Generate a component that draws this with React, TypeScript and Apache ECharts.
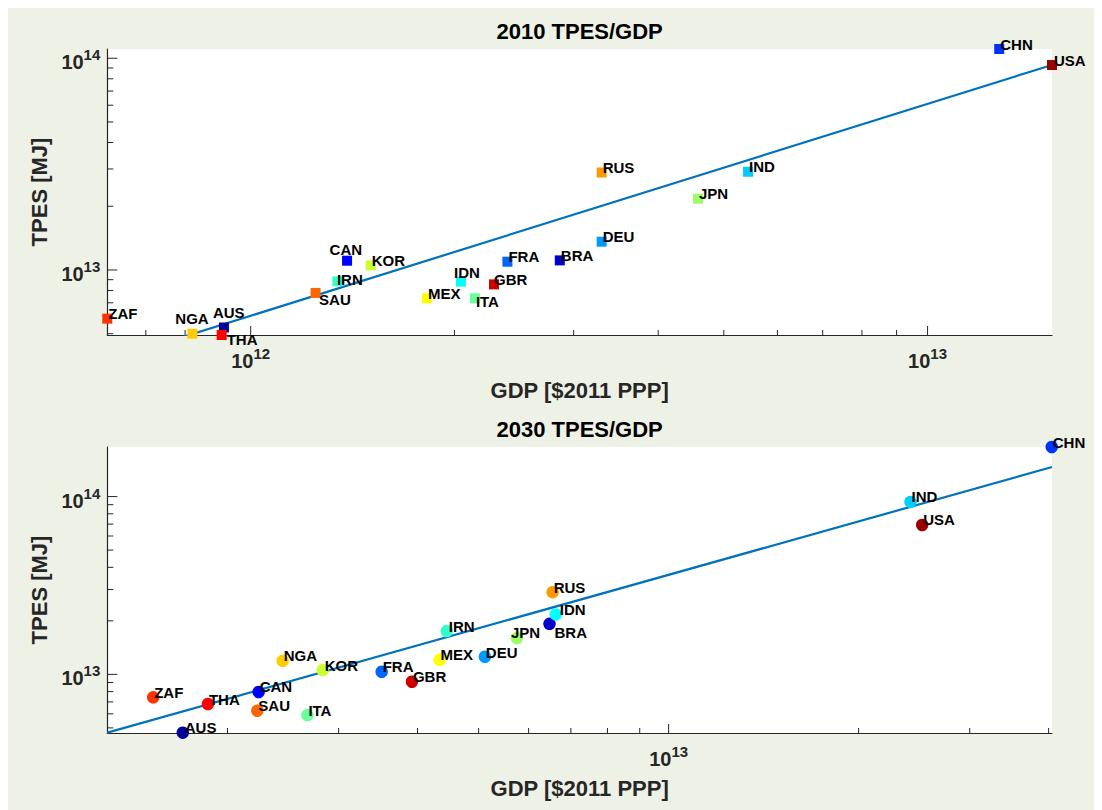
import { useEffect, useRef } from "react";
import * as echarts from "echarts";

const FONT = "'Liberation Sans', Arial, Helvetica, sans-serif";
const AXIS_COLOR = "#262626";
const BG = "#eef1e5";

// Countries (alphabetical by country name -> jet(20) colour order)
const countries = ["AUS", "BRA", "CAN", "CHN", "FRA", "DEU", "IND", "IDN", "IRN", "ITA", "JPN", "KOR", "MEX", "NGA", "RUS", "SAU", "ZAF", "THA", "GBR", "USA"];
const colors = [
  "#000099", "#0000cc", "#0000ff", "#0033ff", "#0066ff", "#0099ff", "#00ccff", "#00ffff", "#33ffcc", "#66ff99",
  "#99ff66", "#ccff33", "#ffff00", "#ffcc00", "#ff9900", "#ff6600", "#ff3300", "#ff0000", "#cc0000", "#990000",
];

// 2010 values
const gdp2010 = [9.13e11, 2.862e12, 1.388e12, 1.276e13, 2.395e12, 3.3e12, 5.43e12, 2.045e12, 1.343e12, 2.144e12, 4.58e12, 1.504e12, 1.821e12, 8.2e11, 3.3e12, 1.247e12, 6.14e11, 9.06e11, 2.288e12, 1.527e13];
const tpes2010 = [5.35e12, 1.11e13, 1.106e13, 1.106e14, 1.094e13, 1.36e13, 2.91e13, 8.81e12, 8.84e12, 7.35e12, 2.17e13, 1.051e13, 7.35e12, 5.0e12, 2.886e13, 7.79e12, 5.89e12, 4.93e12, 8.55e12, 9.29e13];
const fit2010X = [6.14e11, 1.527e13];
const fit2010Y = [3.73e12, 9.3e13];

// 2030 values
const gdp2030 = [1.699e12, 6.475e12, 2.241e12, 4.046e13, 3.51e12, 5.115e12, 2.417e13, 6.625e12, 4.451e12, 2.677e12, 5.75e12, 2.83e12, 4.336e12, 2.446e12, 6.55e12, 2.23e12, 1.525e12, 1.862e12, 3.92e12, 2.522e13];
const tpes2030 = [4.7e12, 1.924e13, 7.96e12, 1.9e14, 1.034e13, 1.256e13, 9.33e13, 2.173e13, 1.751e13, 5.905e12, 1.599e13, 1.057e13, 1.208e13, 1.192e13, 2.9e13, 6.245e12, 7.43e12, 6.81e12, 9.09e12, 6.92e13];
const fit2030X = [1.29e12, 4.05e13];
const fit2030Y = [4.7e12, 1.466e14];

// Axis limits
const xLim2010 = [6.14e11, 1.527e13];
const yLim2010 = [4.93e12, 1.106e14];
const xLim2030 = [1.29e12, 4.05e13];
const yLim2030 = [4.68e12, 1.9e14];

// Tick values
const xMajor2010 = [1e12, 1e13];
const xMinor2010 = [7e11, 8e11, 9e11, 2e12, 3e12, 4e12, 5e12, 6e12, 7e12, 8e12, 9e12];
const xMajor2030 = [1e13];
const xMinor2030 = [2e12, 3e12, 4e12, 5e12, 6e12, 7e12, 8e12, 9e12, 2e13, 3e13, 4e13];
const yMajor = [1e13, 1e14];
const yMinor = [5e12, 6e12, 7e12, 8e12, 9e12, 2e13, 3e13, 4e13, 5e13, 6e13, 7e13, 8e13, 9e13];

// Label offsets (text left / text centre relative to marker centre)
const labDx2010 = [-11, 1, -17.5, 1, 1, 1, 1, -7, -0.5, 1, 1, 1, 1, -17, 1, 3.5, 1, 5, 0, 2];
const labDy2010 = [-15, -5, -11, -5, -5, -5, -5, -9.5, -2, 3, -5, -5, -5, -15, -5, 6.5, -5.5, 4, -5, -5];
const labDx2030 = [2, 5, 1, 1, 1, 1, 1, 4, 2, 1, -6, 2, 1, 1, 1, 1, 1, 1, 1, 1];
const labDy2030 = [-5, 9, -5, -5, -5, -4, -5, -5, -5, -5, -5.5, -5, -5, -5, -4.5, -5, -5, -5, -5, -5];

// Layout (page coords minus 8px body margin)
const GRID_LEFT = 99.3;
const GRID_W = 944.7;
const GRID_H = 286;
const TOP1 = 41;
const TOP2 = 439;

const powLabel = (v: number) => {
  const e = Math.log10(v);
  const r = Math.round(e);
  return Math.abs(e - r) < 1e-6 ? `{b|10}{s|${r}}` : "";
};

const rich = {
  b: { fontSize: 20, fontWeight: "bold", fontFamily: FONT, color: AXIS_COLOR, lineHeight: 25, verticalAlign: "bottom" },
  s: { fontSize: 15, fontWeight: "bold", fontFamily: FONT, color: AXIS_COLOR, lineHeight: 17, verticalAlign: "top" },
};

const nameStyle = { fontSize: 22, fontWeight: "bold", color: AXIS_COLOR, fontFamily: FONT };

function makeXAxis(gridIndex: number, lim: number[]) {
  return {
    type: "log", logBase: 10, gridIndex, min: lim[0], max: lim[1],
    axisLine: { show: true, onZero: false, lineStyle: { color: AXIS_COLOR, width: 1.2 } },
    axisTick: { show: false }, splitLine: { show: false }, minorTick: { show: false }, minorSplitLine: { show: false },
    axisLabel: { formatter: powLabel, margin: 11, rich, fontSize: 20, fontWeight: "bold", fontFamily: FONT, color: AXIS_COLOR, showMinLabel: false, showMaxLabel: false },
    name: "GDP [$2011 PPP]", nameLocation: "middle", nameGap: 44, nameTextStyle: nameStyle,
  };
}

function makeYAxis(gridIndex: number, lim: number[]) {
  return {
    type: "log", logBase: 10, gridIndex, min: lim[0], max: lim[1],
    axisLine: { show: true, onZero: false, lineStyle: { color: AXIS_COLOR, width: 1.2 } },
    axisTick: { show: false }, splitLine: { show: false }, minorTick: { show: false }, minorSplitLine: { show: false },
    axisLabel: { formatter: powLabel, margin: 7, rich, fontSize: 20, fontWeight: "bold", fontFamily: FONT, color: AXIS_COLOR, padding: [3, 0, 0, 0], showMinLabel: false, showMaxLabel: false },
    name: "TPES [MJ]", nameLocation: "middle", nameGap: 53, nameRotate: 90, nameTextStyle: nameStyle,
  };
}

function tickSeries(idx: number, xMaj: number[], xMin: number[], yMaj: number[], yMin: number[], xLim: number[], yLim: number[]) {
  const data = [
    ...xMaj.map((v) => [v, yLim[0], 0]),
    ...xMin.map((v) => [v, yLim[0], 1]),
    ...yMaj.map((v) => [xLim[0], v, 2]),
    ...yMin.map((v) => [xLim[0], v, 3]),
  ];
  return {
    type: "custom", xAxisIndex: idx, yAxisIndex: idx, z: 1, silent: true, clip: false,
    data, encode: { x: 0, y: 1 },
    renderItem: (_p: any, api: any) => {
      const pt = api.coord([api.value(0), api.value(1)]);
      const k = api.value(2);
      const shape = k < 2
        ? { x1: pt[0], y1: pt[1], x2: pt[0], y2: pt[1] - (k === 0 ? 9 : 5) }
        : { x1: pt[0], y1: pt[1], x2: pt[0] + (k === 2 ? 10 : 6), y2: pt[1] };
      return { type: "line", shape, style: { stroke: AXIS_COLOR, lineWidth: 1 } };
    },
  };
}

function scatterSeries(idx: number, xs: number[], ys: number[], dx: number[], dy: number[], symbol: string, size: number) {
  return {
    type: "scatter", xAxisIndex: idx, yAxisIndex: idx, z: 3, clip: false, symbol, symbolSize: size,
    data: countries.map((c, i) => ({
      name: c, value: [xs[i], ys[i]],
      itemStyle: { color: colors[i], opacity: 1 },
      label: { position: [size / 2 + dx[i], size / 2 + dy[i]] },
    })),
    label: {
      show: true, formatter: (p: any) => p.name, align: "left", verticalAlign: "middle",
      fontSize: 15, fontWeight: "bold", color: "#000", fontFamily: FONT,
    },
    emphasis: { disabled: true },
  };
}

function lineSeries(idx: number, xs: number[], ys: number[]) {
  return {
    type: "line", xAxisIndex: idx, yAxisIndex: idx, z: 2, clip: true, showSymbol: false, symbol: "none",
    data: xs.map((x, i) => [x, ys[i]]),
    lineStyle: { color: "#0072bd", width: 2.2 },
  };
}

export default function App() {
  const ref = useRef<HTMLDivElement>(null);
  useEffect(() => {
    if (!ref.current) return;
    const chart = echarts.init(ref.current, null, { renderer: "svg" });
    chart.setOption({
      animation: false,
      backgroundColor: BG,
      grid: [
        { left: GRID_LEFT, top: TOP1, width: GRID_W, height: GRID_H, show: true, backgroundColor: "#fff", borderWidth: 0, containLabel: false, outerBoundsMode: "none" },
        { left: GRID_LEFT, top: TOP2, width: GRID_W, height: GRID_H, show: true, backgroundColor: "#fff", borderWidth: 0, containLabel: false, outerBoundsMode: "none" },
      ],
      xAxis: [makeXAxis(0, xLim2010), makeXAxis(1, xLim2030)],
      yAxis: [makeYAxis(0, yLim2010), makeYAxis(1, yLim2030)],
      graphic: [
        { type: "text", x: GRID_LEFT + GRID_W / 2, y: 23, style: { text: "2010 TPES/GDP", font: `bold 22px ${FONT}`, fill: "#000", textAlign: "center", textVerticalAlign: "middle" } },
        { type: "text", x: GRID_LEFT + GRID_W / 2, y: 421, style: { text: "2030 TPES/GDP", font: `bold 22px ${FONT}`, fill: "#000", textAlign: "center", textVerticalAlign: "middle" } },
      ],
      series: [
        tickSeries(0, xMajor2010, xMinor2010, yMajor, yMinor, xLim2010, yLim2010),
        tickSeries(1, xMajor2030, xMinor2030, yMajor, yMinor, xLim2030, yLim2030),
        lineSeries(0, fit2010X, fit2010Y),
        lineSeries(1, fit2030X, fit2030Y),
        scatterSeries(0, gdp2010, tpes2010, labDx2010, labDy2010, "rect", 10),
        scatterSeries(1, gdp2030, tpes2030, labDx2030, labDy2030, "circle", 12.5),
      ],
    });
    return () => chart.dispose();
  }, []);
  return <div ref={ref} style={{ width: 1094, height: 802 }} />;
}
